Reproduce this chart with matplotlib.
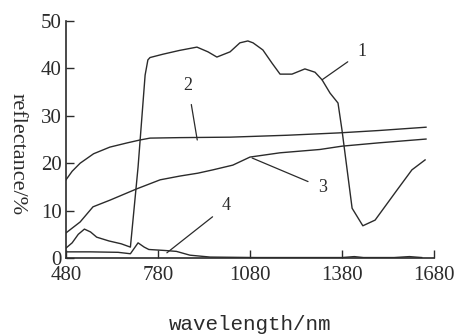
import numpy as np
import matplotlib
matplotlib.use("Agg")
import matplotlib.pyplot as plt

# curve 1
wl1 = [480, 500, 520, 540, 560, 580, 620, 660, 690, 715, 738, 747, 754, 796, 850, 907,
       943, 972, 1015, 1047, 1073, 1090, 1122, 1152, 1178, 1217, 1259, 1292, 1315,
       1341, 1367, 1380, 1413, 1448, 1488, 1559, 1608, 1651]
r1 = [2.1, 3.2, 5.0, 6.1, 5.5, 4.4, 3.6, 3.0, 2.3, 19.2, 38.6, 41.8, 42.3, 43.0, 43.8, 44.5,
      43.5, 42.4, 43.5, 45.4, 45.8, 45.4, 43.9, 41.1, 38.8, 38.8, 39.9, 39.2, 37.6,
      34.8, 32.7, 27.0, 10.5, 6.8, 8.0, 14.3, 18.6, 20.7]

# curve 2
wl2 = [480, 500, 526, 570, 623, 680, 721, 754, 850, 1015, 1200, 1370, 1500, 1654]
r2 = [16.5, 18.3, 20.0, 22.0, 23.4, 24.3, 24.9, 25.3, 25.4, 25.5, 25.9, 26.4, 26.9, 27.6]

# curve 3
wl3 = [480, 500, 526, 568, 623, 711, 787, 852, 910, 959, 1024, 1080, 1178, 1308, 1380,
       1500, 1654]
r3 = [5.3, 6.3, 7.6, 10.8, 12.2, 14.6, 16.5, 17.3, 17.9, 18.6, 19.6, 21.3, 22.2, 22.9,
      23.6, 24.3, 25.1]

# curve 4
wl4 = [480, 560, 650, 690, 715, 735, 750, 800, 840, 884, 950, 1100, 1380, 1420, 1450,
       1550, 1600, 1640]
r4 = [1.3, 1.3, 1.2, 0.9, 3.2, 2.3, 1.8, 1.6, 1.4, 0.6, 0.2, 0.1, 0.1, 0.3, 0.1,
      0.1, 0.3, 0.1]

xticks = [480, 780, 1080, 1380, 1680]
yticks = [0, 10, 20, 30, 40, 50]

ink = "#2b2b2b"
serif = "Liberation Serif"

fig = plt.figure(figsize=(4.59, 3.34), dpi=100)
ax = fig.add_axes([0.1438, 0.2275, 0.8017, 0.7095])

for wl, r in [(wl1, r1), (wl2, r2), (wl3, r3), (wl4, r4)]:
    ax.plot(wl, r, color=ink, lw=1.0)

# curve labels with leader lines
labels = [("1", (1315, 37.6), (1445, 43.5)),
          ("2", (908, 24.9), (878, 36.5)),
          ("3", (1087, 21.1), (1318, 14.8)),
          ("4", (809, 1.1), (1003, 11.0))]
for txt, xy, xyt in labels:
    ax.annotate(txt, xy=xy, xytext=xyt, ha="center", va="center",
                fontsize=13, family=serif, color=ink,
                arrowprops=dict(arrowstyle="-", color=ink, lw=0.9,
                                shrinkA=6, shrinkB=0))

ax.set_xlim(480, 1680)
ax.set_ylim(0, 50)
ax.set_xticks(xticks)
ax.set_yticks(yticks)
ax.spines["top"].set_visible(False)
ax.spines["right"].set_visible(False)
for s in ["left", "bottom"]:
    ax.spines[s].set_color(ink)
    ax.spines[s].set_linewidth(1.2)
ax.tick_params(axis="both", direction="in", color=ink, width=1.0, length=6,
               labelsize=15, labelcolor=ink)
ax.tick_params(axis="x", pad=6)
ax.tick_params(axis="y", pad=3)
for lab in ax.get_xticklabels() + ax.get_yticklabels():
    lab.set_family(serif)

ax.set_ylabel("reflectance/%", family=serif, fontsize=16, color=ink,
              rotation=270, labelpad=20)
ax.yaxis.set_label_coords(-0.16, 0.44)
ax.set_xlabel("wavelength/nm", family="Liberation Mono", fontsize=15, color=ink,
              labelpad=21)

fig.savefig("out.png", dpi=100)
